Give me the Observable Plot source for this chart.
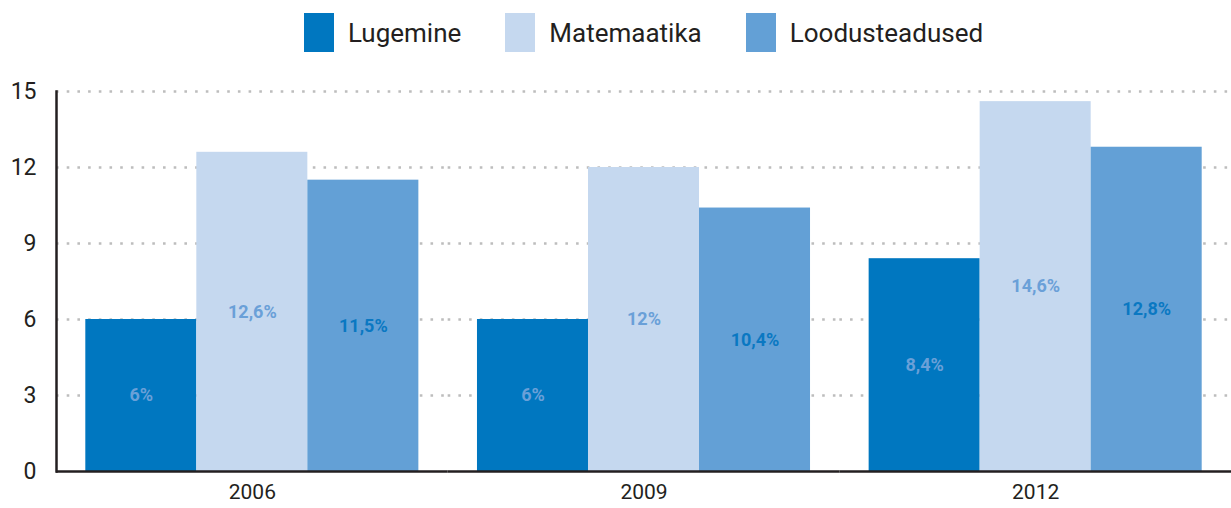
<!DOCTYPE html>
<html><head><meta charset="utf-8">
<script src="https://cdn.jsdelivr.net/npm/d3@7"></script>
<script src="https://cdn.jsdelivr.net/npm/@observablehq/plot@0.6"></script>
<style>
body{margin:0;background:#fff;font-family:Roboto,sans-serif;}
#legend{height:65px;width:1231px;display:flex;justify-content:center;align-items:center;padding-left:56px;box-sizing:border-box;}
.item{display:flex;align-items:center;margin:0 22px;}
.sw{width:30px;height:39px;margin-right:14px;}
.lbl{font-size:26px;color:#231f20;font-weight:400;}
#chart svg{display:block;}
g[aria-label="y-axis tick label"]{font-size:23px;}
g[aria-label="fx-axis tick label"]{font-size:21px;}
</style></head><body>
<div id="legend"></div>
<div id="chart"></div>
<script>
const years = ["2006", "2009", "2012"];
const subjects = ["Lugemine", "Matemaatika", "Loodusteadused"];
const lugemine = [6, 6, 8.4];
const matemaatika = [12.6, 12, 14.6];
const loodusteadused = [11.5, 10.4, 12.8];
const yTicks = [0, 3, 6, 9, 12, 15];
const colors = ["#0077c0", "#c5d8ef", "#63a0d6"];
const labelColors = ["#6aa0d8", "#6aa0d8", "#0a78c2"];

const series = [lugemine, matemaatika, loodusteadused];
const data = [];
years.forEach((yr, i) => subjects.forEach((s, j) => data.push({year: yr, subject: s, value: series[j][i]})));
const fmt = v => String(v).replace(".", ",") + "%";

const legend = document.getElementById("legend");
subjects.forEach((s, j) => {
  const it = document.createElement("div"); it.className = "item";
  const sw = document.createElement("div"); sw.className = "sw"; sw.style.background = colors[j];
  const lb = document.createElement("span"); lb.className = "lbl"; lb.textContent = s;
  it.appendChild(sw); it.appendChild(lb); legend.appendChild(it);
});

const chart = Plot.plot({
  width: 1231, height: 443,
  marginLeft: 56, marginRight: 0, marginTop: 26, marginBottom: 37,
  style: {fontFamily: "Roboto, sans-serif", color: "#231f20", background: "white"},
  fx: {domain: years, padding: 0, round: false, label: null, tickSize: 0, tickPadding: 13},
  x: {domain: subjects, paddingInner: 0, paddingOuter: 0.264, round: false, axis: null},
  y: {domain: [0, 15], ticks: yTicks, tickSize: 0, tickPadding: 20, label: null},
  color: {domain: subjects, range: colors},
  marks: [
    Plot.gridY(yTicks.filter(t => t > 0), {stroke: "#bdbdbd", strokeOpacity: 1, strokeWidth: 2.6, strokeDasharray: "2.6,8.1"}),
    Plot.barY(data, {fx: "year", x: "subject", y: "value", fill: "subject"}),
    Plot.text(data, {fx: "year", x: "subject", y: d => d.value / 2, text: d => fmt(d.value),
      fill: d => labelColors[subjects.indexOf(d.subject)], fontSize: 18, fontWeight: "bold"}),
    Plot.frame({anchor: "left", facetAnchor: "left", stroke: "#231f20", strokeWidth: 2.5}),
    Plot.ruleY([0], {stroke: "#231f20", strokeWidth: 2.5})
  ]
});
document.getElementById("chart").appendChild(chart);
</script>
</body></html>
